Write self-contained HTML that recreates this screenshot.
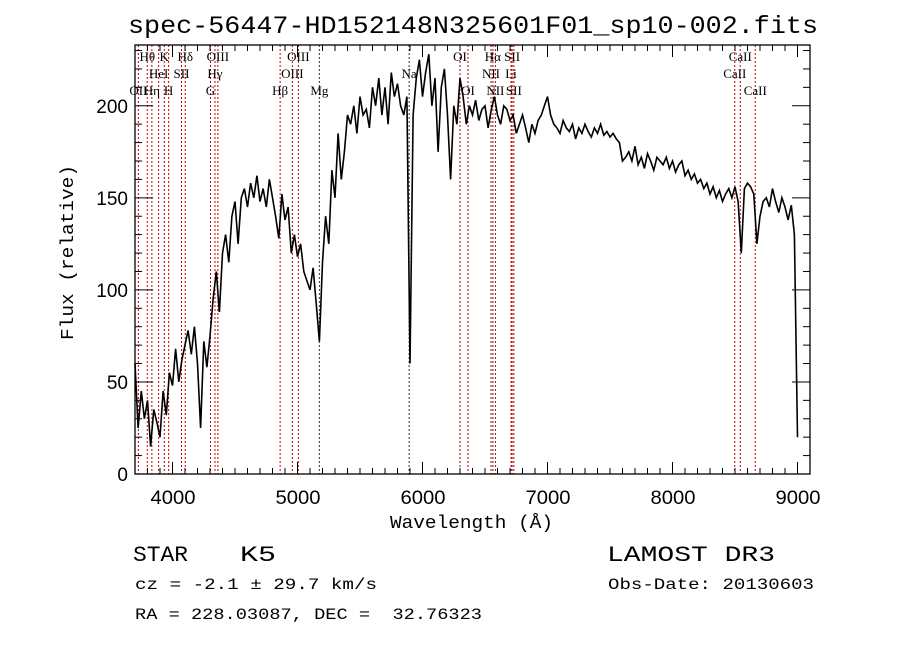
<!DOCTYPE html>
<html><head><meta charset="utf-8"><style>
body{margin:0;background:#fff}
svg{display:block}
.t{font-family:"Liberation Sans",sans-serif}
.m{font-family:"Liberation Mono","DejaVu Sans Mono",monospace}
.s{font-family:"Liberation Serif",serif;font-size:13px}
text{white-space:pre}
</style></head><body>
<svg id="c" width="900" height="649" viewBox="0 0 900 649">
<text x="128" y="33" textLength="690" lengthAdjust="spacingAndGlyphs" class="m" font-size="25">spec-56447-HD152148N325601F01_sp10-002.fits</text>
<g id="lines"></g>
<g id="labels"></g>
<g id="spec"></g>
<g id="axes"></g>
<text x="390" y="528" textLength="163" lengthAdjust="spacingAndGlyphs" class="m" font-size="18">Wavelength (Å)</text>
<text transform="translate(73,340) rotate(-90)" textLength="175" lengthAdjust="spacingAndGlyphs" class="m" font-size="18">Flux (relative)</text>
<text x="133" y="561" textLength="55" lengthAdjust="spacingAndGlyphs" class="m" font-size="22">STAR</text>
<text x="240" y="561" textLength="36" lengthAdjust="spacingAndGlyphs" class="m" font-size="22">K5</text>
<text x="607" y="561" textLength="168" lengthAdjust="spacingAndGlyphs" class="m" font-size="22">LAMOST DR3</text>
<text x="135" y="589" textLength="242" lengthAdjust="spacingAndGlyphs" class="m" font-size="16">cz = -2.1 ± 29.7 km/s</text>
<text x="608" y="589" textLength="206" lengthAdjust="spacingAndGlyphs" class="m" font-size="16">Obs-Date: 20130603</text>
<text x="135" y="619" textLength="347" lengthAdjust="spacingAndGlyphs" class="m" font-size="16">RA = 228.03087, DEC =  32.76323</text>
</svg>
<script>
const flux=[60,25,45,30,40,15,35,28,20,45,32,
55,48,68,50,62,70,
78,65,80,60,25,72,58,75,
95,110,88,120,
130,115,140,148,125,150,155,145,
158,150,162,148,155,145,160,150,
140,128,152,138,145,120,
130,118,125,110,105,100,112,92,
72,
115,140,125,165,150,185,160,175,195,
190,200,185,205,195,198,188,210,
200,215,195,210,190,218,205,212,200,195,205,
60,
195,215,225,205,218,228,200,215,175,210,220,195,
160,200,190,215,
205,190,200,195,203,192,198,200,188,198,205,195,
190,200,198,192,195,185,190,195,188,180,190,185,192,195,200,205,
195,190,188,185,192,188,186,190,182,188,185,190,186,183,188,185,190,184,186,183,
185,182,180,170,
172,175,170,178,168,172,166,174,170,165,172,170,168,172,166,170,164,168,170,162,
165,160,163,158,160,155,158,152,156,150,154,148,152,155,150,156,
148,120,155,158,156,152,125,140,148,150,145,155,148,142,150,145,138,146,130,20];
const lambdaStart=3700, lambdaStep=25;
const xTicks=[4000,5000,6000,7000,8000,9000];
const yTicks=[0,50,100,150,200];
const lineWaves=[3727,3798,3835,3889,3934,3969,4072,4102,4304,4340,4363,4861,4959,5007,5175,5893,6300,6364,6548,6563,6583,6708,6717,6731,8498,8542,8662];
const lineNames=["OII","Hθ","Hη","HeI","K","H","SII","Hδ","G","Hγ","OIII","Hβ","OIII","OIII","Mg","Na","OI","OI","NII","Hα","NII","Li","SII","SII","CaII","CaII","CaII"];
const lineRows=[2,0,2,1,0,2,1,0,2,1,0,2,1,0,2,1,0,2,1,0,2,1,0,2,1,0,2];
const X0=135,X1=810,Y0=474,YT=45,XMIN=3700,XMAX=9100,YMAX=233;
const xs=l=>X0+(l-XMIN)*(X1-X0)/(XMAX-XMIN);
const ys=f=>Y0-f*(Y0-YT)/YMAX;
const NS="http://www.w3.org/2000/svg";
function mk(tag,attrs,parent){const e=document.createElementNS(NS,tag);for(const k in attrs)e.setAttribute(k,attrs[k]);parent.appendChild(e);return e;}
const gl=document.getElementById('lines'),glab=document.getElementById('labels'),gs=document.getElementById('spec'),ga=document.getElementById('axes');
lineWaves.forEach((w,i)=>{
 const blk=(lineNames[i]==="Na"||lineNames[i]==="Mg"||lineNames[i]==="Hα");
 const l=mk('line',{x1:xs(w),x2:xs(w),y1:YT,y2:Y0,stroke:blk?'#333':'#c00000','stroke-width':1,'stroke-dasharray':'2,2'},gl);
 
 
 const t=mk('text',{x:xs(w),y:61+lineRows[i]*17,'text-anchor':'middle',class:'s'},glab);
 t.textContent=lineNames[i];
 
 
});
let pts=flux.map((f,i)=>xs(lambdaStart+i*lambdaStep).toFixed(1)+','+ys(f).toFixed(1)).join(' ');
const pl=mk('polyline',{points:pts,fill:'none',stroke:'#000','stroke-width':1.6},gs);


const fr=mk('rect',{x:X0,y:YT,width:X1-X0,height:Y0-YT,fill:'none',stroke:'#000','stroke-width':1.3},ga);


for(let l=3700;l<=9100;l+=100){const maj=l%1000===0,len=maj?12:6;
 mk('line',{x1:xs(l),x2:xs(l),y1:Y0,y2:Y0-len,stroke:'#000'},ga);
 mk('line',{x1:xs(l),x2:xs(l),y1:YT,y2:YT+len,stroke:'#000'},ga);}
for(let f=0;f<=230;f+=10){const maj=f%50===0,len=maj?18:7;
 mk('line',{x1:X0,x2:X0+len,y1:ys(f),y2:ys(f),stroke:'#000'},ga);
 mk('line',{x1:X1,x2:X1-len,y1:ys(f),y2:ys(f),stroke:'#000'},ga);}
xTicks.forEach(v=>{const t=mk('text',{x:xs(v)-22,y:Y0+30,textLength:45,lengthAdjust:'spacingAndGlyphs',class:'t','font-size':19},ga);t.textContent=v;
 
 });
yTicks.forEach(v=>{const t=mk('text',{x:X0-7,y:ys(v)+7,'text-anchor':'end',class:'t','font-size':19},ga);t.textContent=v;
 
 });
</script>
</body></html>
